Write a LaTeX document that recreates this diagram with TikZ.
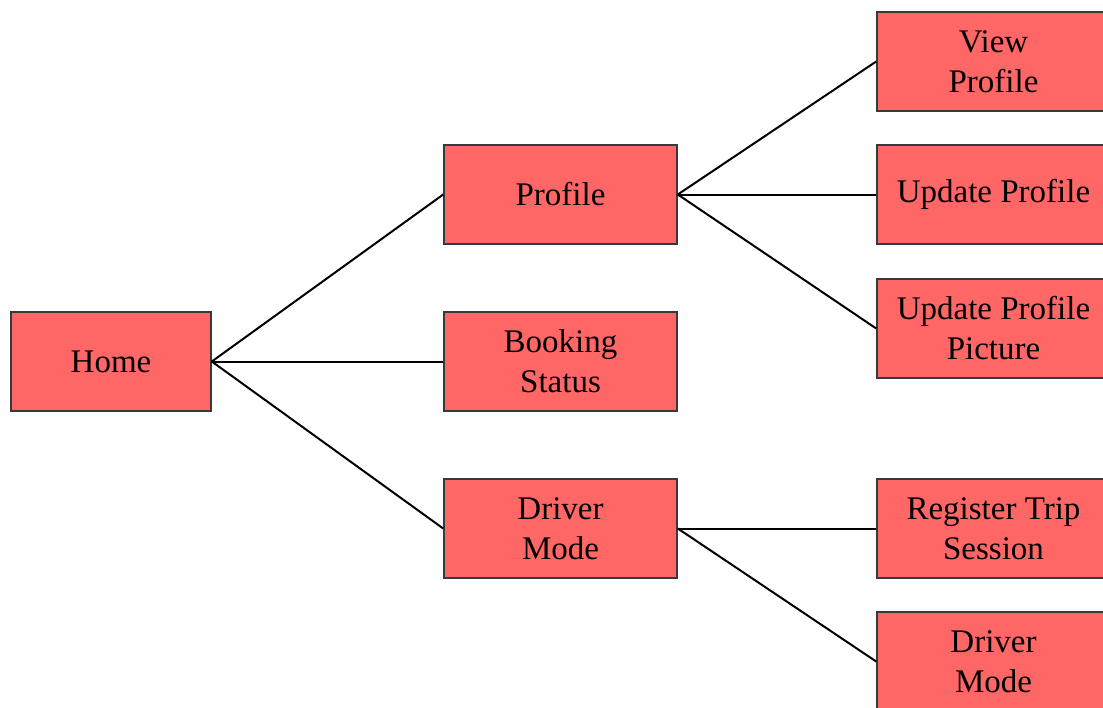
\documentclass[tikz,border=0pt]{standalone}
\usepackage{fontspec}
\setmainfont{Liberation Serif}
\definecolor{boxfill}{HTML}{FF6666}
\definecolor{boxline}{HTML}{36393D}
\begin{document}
\begin{tikzpicture}[x=1pt,y=-1pt,
  menubox/.style={draw=boxline, fill=boxfill, line width=1.6pt,
    minimum width=233pt, minimum height=99pt, inner sep=0pt,
    align=center, font=\fontsize{33}{40}\selectfont},
  link/.style={line width=2pt, black}]
\useasboundingbox (0,0) rectangle (1103,707);
\clip (0,0) rectangle (1103,707);
% root
\node[menubox, minimum width=200pt] (home) at (111,361.5) {Home};
% second level
\node[menubox] (profile) at (560.5,194.5) {Profile};
\node[menubox] (booking) at (560.5,361.5) {Booking\\Status};
\node[menubox] (driver)  at (560.5,528.5) {Driver\\Mode};
% third level
\node[menubox] (view)    at (993.5,61.5)  {View\\Profile};
\node[menubox] (update)  at (993.5,194.5) {Update Profile};
\node[menubox] (picture) at (993.5,328.5) {Update Profile\\Picture};
\node[menubox] (trip)    at (993.5,528.5) {Register Trip\\Session};
\node[menubox] (mode)    at (993.5,661.5) {Driver\\Mode};
% connectors
\draw[link] (home.east) -- (profile.west);
\draw[link] (home.east) -- (booking.west);
\draw[link] (home.east) -- (driver.west);
\draw[link] (profile.east) -- (view.west);
\draw[link] (profile.east) -- (update.west);
\draw[link] (profile.east) -- (picture.west);
\draw[link] (driver.east) -- (trip.west);
\draw[link] (driver.east) -- (mode.west);
\end{tikzpicture}
\end{document}
